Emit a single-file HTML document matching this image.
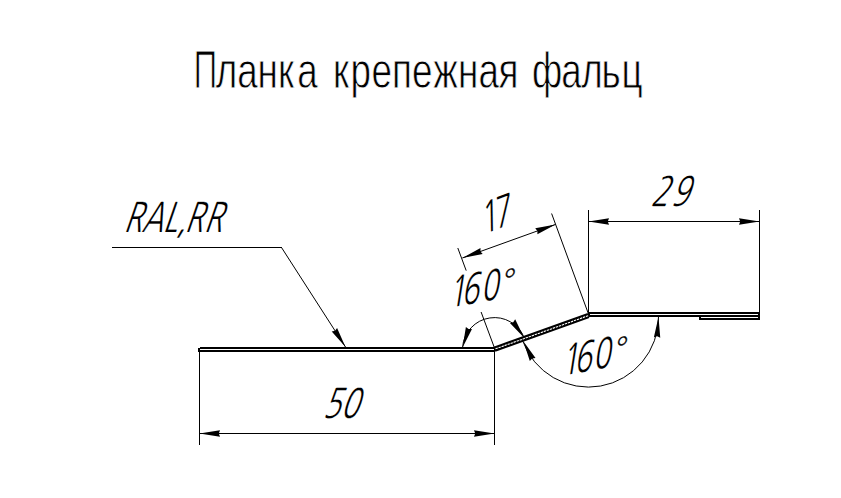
<!DOCTYPE html>
<html lang="ru">
<head>
<meta charset="utf-8">
<title>Планка крепежная фальц</title>
<style>
html,body{margin:0;padding:0;background:#fff;}
body{width:841px;height:498px;overflow:hidden;position:relative;}
svg{position:absolute;left:0;top:0;display:block;}
text{fill:#000;stroke:#fff;paint-order:fill stroke;stroke-linejoin:round;}
.ttl{font-family:"Liberation Sans",sans-serif;}
.dim{font-family:"NanumGothic","Liberation Sans",sans-serif;}
.thin{stroke:#000;stroke-width:1;fill:none;}
.crisp{shape-rendering:crispEdges;}
.arr{fill:#000;stroke:none;}
.k{fill:#000;}
.w{fill:#fff;}
</style>
</head>
<body>
<svg width="841" height="498" viewBox="0 0 841 498">
<rect width="841" height="498" fill="#fff"/>

<!-- texts -->
<g id="title" style="opacity:0.99">
<text id="t1" class="ttl" font-size="50.4" stroke-width="0.8" transform="translate(0 88) scale(0.73 1)" x="265 295.68 324.86 352.6 380.96 407.12 434.79 456.23 480.21 508.97 537.12 564.38 593.42 627.53 655.55 683.01 710.55 728.7 768.9 796.16 824.04 851.44" y="0"><tspan font-size="54.4" stroke-width="1.2" textLength="32.6" lengthAdjust="spacingAndGlyphs">П</tspan>ланка крепежная фальц</text>
</g>
<g id="dims">
<text id="ral" class="dim" font-size="40.7" stroke-width="0.1" transform="translate(0 232) skewX(-19) scale(0.72 1)" x="170.97 195.76 225.42 245.35 255.63 282.29" y="0">RAL,RR</text>
<text id="d50" class="dim" font-size="40.7" stroke-width="0.1" transform="translate(0 418.2) skewX(-19) scale(0.72 1)" x="447.22 472.22" y="0">50</text>
<text id="d29" class="dim" font-size="40.7" stroke-width="0.1" transform="translate(0 206) skewX(-19) scale(0.72 1)" x="903.19 931.32" y="0">29</text>
<text id="d17" class="dim" font-size="40.7" stroke-width="0.1" transform="translate(486 233.25) rotate(-20) skewX(-19) scale(0.72 1)" x="-4.73 14.08" y="0">17</text>
<text id="a1" class="dim" font-size="40.7" stroke-width="0.1" transform="translate(455 306.73) rotate(-10) skewX(-19) scale(0.72 1)" x="-9.1 9.69 36.94 59.54" y="0">160<tspan dy="3" stroke="#000" stroke-width="0.35" textLength="25.6" lengthAdjust="spacingAndGlyphs">°</tspan></text>
<text id="a2" class="dim" font-size="40.7" stroke-width="0.1" transform="translate(567 374.73) rotate(-10) skewX(-19) scale(0.72 1)" x="-7.83 10.75 37.15 59.89" y="0">160<tspan dy="3" stroke="#000" stroke-width="0.35" textLength="25.6" lengthAdjust="spacingAndGlyphs">°</tspan></text>
</g>

<!-- thin lines -->
<g id="lines">
<g class="thin crisp">
<path d="M199.5 351 V445"/>
<path d="M494.5 351 V445"/>
<path d="M199.5 433.5 H494.5"/>
<path d="M588.5 210 V313"/>
<path d="M759.5 210 V313"/>
<path d="M588.5 221.5 H759.5"/>
<path d="M112 247.5 H282"/>
</g>
<g class="thin">
<path d="M494.5 348 L481.1 312"/>
<path d="M466.2 270.6 L457.8 248"/>
<path d="M588.3 313.5 L551.6 213.5"/>
<path d="M462.3 258 L555.6 224.4"/>
<path d="M281.5 247.5 L345.5 347"/>
<path d="M462.6 347.09 A32.0 32.0 0 0 1 524.31 337.97"/>
<path d="M522.56 340.58 A70.0 70.0 0 0 0 658.5 316.7"/>
</g>

<!-- arrows -->
<path class="arr" transform="translate(199.5 433.5) rotate(0)" d="M0 0 L20.5 -3.2 L19.3 0 L20.5 3.2 Z"/>
<path class="arr" transform="translate(494.5 433.5) rotate(180)" d="M0 0 L20.5 -3.2 L19.3 0 L20.5 3.2 Z"/>
<path class="arr" transform="translate(588.5 221.5) rotate(0)" d="M0 0 L20.5 -3.2 L19.3 0 L20.5 3.2 Z"/>
<path class="arr" transform="translate(759.5 221.5) rotate(180)" d="M0 0 L20.5 -3.2 L19.3 0 L20.5 3.2 Z"/>
<path class="arr" transform="translate(462.3 258) rotate(-19.8)" d="M0 0 L20.5 -3.2 L19.3 0 L20.5 3.2 Z"/>
<path class="arr" transform="translate(555.6 224.4) rotate(160.2)" d="M0 0 L20.5 -3.2 L19.3 0 L20.5 3.2 Z"/>
<path class="arr" transform="translate(345.5 347) rotate(237.2)" d="M0 0 L20.5 -3.2 L19.3 0 L20.5 3.2 Z"/>
<path class="arr" transform="translate(462.6 347.39) rotate(-72)" d="M0 0 L20.5 -3.2 L19.3 0 L20.5 3.2 Z"/>
<path class="arr" transform="translate(524.31 337.97) rotate(-125)" d="M0 0 L20.5 -3.2 L19.3 0 L20.5 3.2 Z"/>
<path class="arr" transform="translate(523.36 341.18) rotate(63)" d="M0 0 L20.5 -3.2 L19.3 0 L20.5 3.2 Z"/>
<path class="arr" transform="translate(658.5 317) rotate(94)" d="M0 0 L20.5 -3.2 L19.3 0 L20.5 3.2 Z"/>

<!-- profile -->
<g class="crisp">
<rect class="k" x="200" y="347" width="295" height="5"/>
<rect class="k" x="198" y="348" width="2" height="4"/>
<rect class="k" x="588" y="312" width="172" height="5"/>
<rect class="k" x="699" y="316" width="61" height="4"/>
<rect class="w" x="200" y="349" width="294" height="1"/>
<rect class="w" x="590" y="314" width="168" height="1"/>
<rect class="w" x="701" y="317" width="57" height="1"/>
</g>
<path d="M494.5 349.2 L588.5 315.6" stroke="#000" stroke-width="5.3" fill="none"/>
<path d="M495.5 348.85 L588.5 315.6" stroke="#fff" stroke-width="1.1" fill="none" stroke-dasharray="2.4 0.8"/>
</g>
</svg>
</body>
</html>
